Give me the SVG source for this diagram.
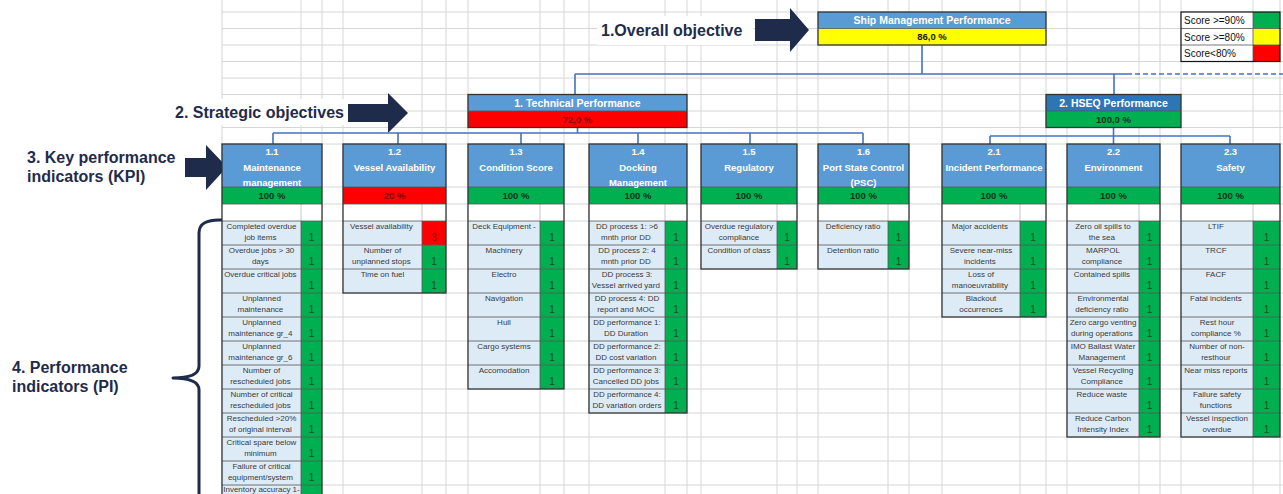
<svg xmlns="http://www.w3.org/2000/svg" width="1283" height="494" viewBox="0 0 1283 494">
<style>
.bg{fill:#ffffff}
.grid{stroke:#d6d6d6;stroke-width:1;fill:none}
.hd{fill:#5b9bd5}
.hd2{fill:#2e75b6}
.gr{fill:#00b050}
.rd{fill:#ff0000}
.ye{fill:#ffff00}
.wh{fill:#ffffff}
.pl{fill:#ddebf7}
.box{fill:none;stroke:#333333;stroke-width:1.3}
.sep{fill:none;stroke:#555555;stroke-width:0.8}
.lgt{fill:none;stroke:#c8c8c8;stroke-width:1}
.ht{font-family:"Liberation Sans",Arial,sans-serif;font-weight:bold;font-size:9.5px;fill:#ffffff;text-anchor:middle}
.ht2{font-family:"Liberation Sans",Arial,sans-serif;font-weight:bold;font-size:10.5px;fill:#ffffff;text-anchor:middle}
.vt{font-family:"Liberation Sans",Arial,sans-serif;font-weight:bold;font-size:9.5px;fill:#10301a;text-anchor:middle}
.vtr{font-family:"Liberation Sans",Arial,sans-serif;font-weight:bold;font-size:9.5px;fill:#8a0000;text-anchor:middle}
.vtk{font-family:"Liberation Sans",Arial,sans-serif;font-weight:bold;font-size:9.5px;fill:#111111;text-anchor:middle}
.pt{font-family:"Liberation Sans",Arial,sans-serif;font-size:8px;fill:#3a3a3a;text-anchor:middle}
.one{font-family:"Liberation Sans",Arial,sans-serif;font-size:10px;fill:#174d22;text-anchor:middle}
.oner{font-family:"Liberation Sans",Arial,sans-serif;font-size:10px;fill:#9a0000;text-anchor:middle}
.lg{font-family:"Liberation Sans",Arial,sans-serif;font-size:10px;fill:#111111}
.lbl{font-family:"Liberation Sans",Arial,sans-serif;font-weight:bold;font-size:16px;fill:#1f2b4a}
.navy{fill:#1f2b4a}
.conn{fill:none;stroke:#4472c4;stroke-width:1.6}
.dash{fill:none;stroke:#4472c4;stroke-width:1.6;stroke-dasharray:5 3}
.brace{fill:none;stroke:#1f2b4a;stroke-width:3;stroke-linejoin:round}
</style>
<rect class="bg" x="0" y="0" width="1283" height="494"/>
<g id="grid">
<path class="grid" d="M222,0V494M301,0V494M322,0V494M343,0V494M422,0V494M446,0V494M468,0V494M540,0V494M564,0V494M589,0V494M665,0V494M687,0V494M701,0V494M777,0V494M797,0V494M818,0V494M888,0V494M909,0V494M942,0V494M1020,0V494M1046,0V494M1067,0V494M1139,0V494M1160,0V494M1181,0V494M1253,0V494M1280,0V494"/>
<path class="grid" d="M222,12H1283M222,28.5H1283M222,45H1283M222,61.5H1283M222,78H1283M222,94.5H1283M222,111H1283M222,127.5H1283M222,144H1283M222,187H1283M222,204H1283M222,221H1283M222,245H1283M222,269H1283M222,293H1283M222,317H1283M222,341H1283M222,365H1283M222,389H1283M222,413H1283M222,437H1283M222,461H1283M222,485H1283"/>
</g>
<g id="labels">
<rect class="wh" x="597" y="16" width="156" height="29"/>
<text class="lbl" x="601" y="36">1.Overall objective</text>
<rect class="wh" x="172" y="99" width="178" height="26"/>
<text class="lbl" x="175" y="118">2. Strategic objectives</text>
<text class="lbl" x="27" y="163">3. Key performance</text>
<text class="lbl" x="27" y="182">indicators (KPI)</text>
<text class="lbl" x="12" y="373">4. Performance</text>
<text class="lbl" x="12" y="392">indicators (PI)</text>
<polygon class="navy" points="755,19 790,19 790,8 809,30 790,52 790,41 755,41"/>
<polygon class="navy" points="348,104 388,104 388,93 408,113 388,133 388,122 348,122"/>
<polygon class="navy" points="185,158 206,158 206,145 227,167 206,190 206,177 185,177"/>
<path class="brace" d="M222,220 Q199,219 199,233 L199,366 Q199,378 173,378 Q199,378 199,390 L199,500"/>
</g>
<g id="legend">
<rect class="wh" x="1181" y="12" width="72" height="49.5"/>
<rect class="gr" x="1253" y="12" width="27" height="16.5"/>
<rect class="ye" x="1253" y="28.5" width="27" height="16.5"/>
<rect class="rd" x="1253" y="45" width="27" height="16.5"/>
<path class="sep" d="M1181,28.5H1280M1181,45H1280M1253,12V61.5"/>
<rect fill="none" stroke="#111" stroke-width="1.2" x="1181" y="12" width="99" height="49.5"/>
<text class="lg" x="1184" y="24">Score &gt;=90%</text>
<text class="lg" x="1184" y="40.5">Score &gt;=80%</text>
<text class="lg" x="1184" y="57">Score&lt;80%</text>
</g>
<g id="connectors">
<path class="conn" d="M922,45V74M575,74H1127M575,74V94.5M1114,74V94.5"/>
<path class="dash" d="M1127,74H1283"/>
<path class="conn" d="M577.5,127.5V133M273,133H863M273,133V144M398,133V144M521,133V144M638,133V144M750,133V144M863,133V144"/>
<path class="conn" d="M1113.5,127.5V136M990,136H1230M990,136V144M1113.5,136V144M1230,136V144"/>
</g>
<g id="overall">
<rect class="hd" x="818" y="12" width="228" height="16.5"/>
<rect class="ye" x="818" y="28.5" width="228" height="16.5"/>
<rect class="box" x="818" y="12" width="228" height="33"/>
<path class="sep" d="M818,28.5H1046"/>
<text class="ht2" x="932" y="24">Ship Management Performance</text>
<text class="vtk" x="932" y="40">86,0 %</text>
</g>
<g id="technical">
<rect class="hd" x="468" y="94.5" width="219" height="16.5"/>
<rect class="rd" x="468" y="111" width="219" height="16.5"/>
<rect class="box" x="468" y="94.5" width="219" height="33"/>
<path class="sep" d="M468,111H687"/>
<text class="ht2" x="577.5" y="106.5">1. Technical Performance</text>
<text class="vtr" x="577.5" y="123">72,0 %</text>
</g>
<g id="hseq">
<rect class="hd2" x="1046" y="94.5" width="135" height="16.5"/>
<rect class="gr" x="1046" y="111" width="135" height="16.5"/>
<rect class="box" x="1046" y="94.5" width="135" height="33"/>
<path class="sep" d="M1046,111H1181"/>
<text class="ht2" x="1113.5" y="106.5">2. HSEQ Performance</text>
<text class="vt" x="1113.5" y="123">100,0 %</text>
</g>
<g id="kpi-1-1">
<rect class="hd" x="222" y="144" width="100" height="43"/>
<rect class="gr" x="222" y="187" width="100" height="17"/>
<rect class="wh" x="222" y="204" width="100" height="17"/>
<rect class="pl" x="222" y="221" width="79" height="290"/>
<rect class="gr" x="301" y="221" width="21" height="290"/>
<path class="lgt" d="M301,204V221"/>
<path class="sep" d="M222,187H322M222,204H322M222,221H322M222,245H322M222,269H322M222,293H322M222,317H322M222,341H322M222,365H322M222,389H322M222,413H322M222,437H322M222,461H322M222,485H322M301,221V511"/>
<rect class="box" x="222" y="144" width="100" height="367"/>
<text class="ht"><tspan x="272" y="155">1.1</tspan><tspan x="272" y="170.5">Maintenance</tspan><tspan x="272" y="185.5">management</tspan></text>
<text class="vt" x="272" y="199">100 %</text>
<text class="pt"><tspan x="261.5" y="229">Completed overdue</tspan><tspan x="261.5" y="240">job items</tspan>
<tspan x="261.5" y="253">Overdue jobs &gt; 30</tspan><tspan x="261.5" y="264">days</tspan>
<tspan x="261.5" y="277">Overdue critical jobs</tspan>
<tspan x="261.5" y="301">Unplanned</tspan><tspan x="261.5" y="312">maintenance</tspan>
<tspan x="261.5" y="325">Unplanned</tspan><tspan x="261.5" y="336">maintenance gr_4</tspan>
<tspan x="261.5" y="349">Unplanned</tspan><tspan x="261.5" y="360">maintenance gr_6</tspan>
<tspan x="261.5" y="373">Number of</tspan><tspan x="261.5" y="384">rescheduled jobs</tspan>
<tspan x="261.5" y="397">Number of critical</tspan><tspan x="261.5" y="408">rescheduled jobs</tspan>
<tspan x="261.5" y="421">Rescheduled &gt;20%</tspan><tspan x="261.5" y="432">of original interval</tspan>
<tspan x="261.5" y="445">Critical spare below</tspan><tspan x="261.5" y="456">minimum</tspan>
<tspan x="261.5" y="469">Failure of critical</tspan><tspan x="261.5" y="480">equipment/system</tspan>
<tspan x="261.5" y="491.5">Inventory accuracy 1-</tspan></text>
<text class="one"><tspan x="311.5" y="240.5">1</tspan><tspan x="311.5" y="264.5">1</tspan><tspan x="311.5" y="288.5">1</tspan><tspan x="311.5" y="312.5">1</tspan><tspan x="311.5" y="336.5">1</tspan><tspan x="311.5" y="360.5">1</tspan><tspan x="311.5" y="384.5">1</tspan><tspan x="311.5" y="408.5">1</tspan><tspan x="311.5" y="432.5">1</tspan><tspan x="311.5" y="456.5">1</tspan><tspan x="311.5" y="480.5">1</tspan></text>
</g>
<g id="kpi-1-2">
<rect class="hd" x="343" y="144" width="103" height="43"/>
<rect class="rd" x="343" y="187" width="103" height="17"/>
<rect class="wh" x="343" y="204" width="103" height="17"/>
<rect class="pl" x="343" y="221" width="79" height="72"/>
<rect class="gr" x="422" y="221" width="24" height="72"/>
<rect class="rd" x="422" y="221" width="24" height="24"/>
<path class="lgt" d="M422,204V221"/>
<path class="sep" d="M343,187H446M343,204H446M343,221H446M343,245H446M343,269H446M422,221V293"/>
<rect class="box" x="343" y="144" width="103" height="149"/>
<text class="ht"><tspan x="394.5" y="155">1.2</tspan><tspan x="394.5" y="170.5">Vessel Availability</tspan></text>
<text class="vtr" x="394.5" y="199">20 %</text>
<text class="pt"><tspan x="382.5" y="229">Vessel availability</tspan>
<tspan x="382.5" y="253">Number of</tspan><tspan x="382.5" y="264">unplanned stops</tspan>
<tspan x="382.5" y="277">Time on fuel</tspan></text>
<text class="oner" x="434" y="240.5">3</text>
<text class="one"><tspan x="434" y="264.5">1</tspan><tspan x="434" y="288.5">1</tspan></text>
</g>
<g id="kpi-1-3">
<rect class="hd" x="468" y="144" width="96" height="43"/>
<rect class="gr" x="468" y="187" width="96" height="17"/>
<rect class="wh" x="468" y="204" width="96" height="17"/>
<rect class="pl" x="468" y="221" width="72" height="168"/>
<rect class="gr" x="540" y="221" width="24" height="168"/>
<path class="lgt" d="M540,204V221"/>
<path class="sep" d="M468,187H564M468,204H564M468,221H564M468,245H564M468,269H564M468,293H564M468,317H564M468,341H564M468,365H564M540,221V389"/>
<rect class="box" x="468" y="144" width="96" height="245"/>
<text class="ht"><tspan x="516" y="155">1.3</tspan><tspan x="516" y="170.5">Condition Score</tspan></text>
<text class="vt" x="516" y="199">100 %</text>
<text class="pt"><tspan x="504" y="229">Deck Equipment -</tspan><tspan x="504" y="253">Machinery</tspan><tspan x="504" y="277">Electro</tspan><tspan x="504" y="301">Navigation</tspan><tspan x="504" y="325">Hull</tspan><tspan x="504" y="349">Cargo systems</tspan><tspan x="504" y="373">Accomodation</tspan></text>
<text class="one"><tspan x="552" y="240.5">1</tspan><tspan x="552" y="264.5">1</tspan><tspan x="552" y="288.5">1</tspan><tspan x="552" y="312.5">1</tspan><tspan x="552" y="336.5">1</tspan><tspan x="552" y="360.5">1</tspan><tspan x="552" y="384.5">1</tspan></text>
</g>
<g id="kpi-1-4">
<rect class="hd" x="589" y="144" width="98" height="43"/>
<rect class="gr" x="589" y="187" width="98" height="17"/>
<rect class="wh" x="589" y="204" width="98" height="17"/>
<rect class="pl" x="589" y="221" width="76" height="192"/>
<rect class="gr" x="665" y="221" width="22" height="192"/>
<path class="lgt" d="M665,204V221"/>
<path class="sep" d="M589,187H687M589,204H687M589,221H687M589,245H687M589,269H687M589,293H687M589,317H687M589,341H687M589,365H687M589,389H687M665,221V413"/>
<rect class="box" x="589" y="144" width="98" height="269"/>
<text class="ht"><tspan x="638" y="155">1.4</tspan><tspan x="638" y="170.5">Docking</tspan><tspan x="638" y="185.5">Management</tspan></text>
<text class="vt" x="638" y="199">100 %</text>
<text class="pt"><tspan x="627" y="229">DD process 1: &gt;6</tspan><tspan x="627" y="240">mnth prior DD</tspan>
<tspan x="627" y="253">DD process 2: 4</tspan><tspan x="627" y="264">mnth prior  DD</tspan>
<tspan x="627" y="277">DD process 3:</tspan><tspan x="627" y="288">Vessel arrived yard</tspan>
<tspan x="627" y="301">DD process 4: DD</tspan><tspan x="627" y="312">report and MOC</tspan>
<tspan x="627" y="325">DD performance 1:</tspan><tspan x="627" y="336">DD Duration</tspan>
<tspan x="627" y="349">DD performance 2:</tspan><tspan x="627" y="360">DD cost variation</tspan>
<tspan x="627" y="373">DD performance 3:</tspan><tspan x="627" y="384">Cancelled DD jobs</tspan>
<tspan x="627" y="397">DD performance 4:</tspan><tspan x="627" y="408">DD variation orders</tspan></text>
<text class="one"><tspan x="676" y="240.5">1</tspan><tspan x="676" y="264.5">1</tspan><tspan x="676" y="288.5">1</tspan><tspan x="676" y="312.5">1</tspan><tspan x="676" y="336.5">1</tspan><tspan x="676" y="360.5">1</tspan><tspan x="676" y="384.5">1</tspan><tspan x="676" y="408.5">1</tspan></text>
</g>
<g id="kpi-1-5">
<rect class="hd" x="701" y="144" width="96" height="43"/>
<rect class="gr" x="701" y="187" width="96" height="17"/>
<rect class="wh" x="701" y="204" width="96" height="17"/>
<rect class="pl" x="701" y="221" width="76" height="48"/>
<rect class="gr" x="777" y="221" width="20" height="48"/>
<path class="lgt" d="M777,204V221"/>
<path class="sep" d="M701,187H797M701,204H797M701,221H797M701,245H797M777,221V269"/>
<rect class="box" x="701" y="144" width="96" height="125"/>
<text class="ht"><tspan x="749" y="155">1.5</tspan><tspan x="749" y="170.5">Regulatory</tspan></text>
<text class="vt" x="749" y="199">100 %</text>
<text class="pt"><tspan x="739" y="229">Overdue regulatory</tspan><tspan x="739" y="240">compliance</tspan><tspan x="739" y="253">Condition of class</tspan></text>
<text class="one"><tspan x="787" y="240.5">1</tspan><tspan x="787" y="264.5">1</tspan></text>
</g>
<g id="kpi-1-6">
<rect class="hd" x="818" y="144" width="91" height="43"/>
<rect class="gr" x="818" y="187" width="91" height="17"/>
<rect class="wh" x="818" y="204" width="91" height="17"/>
<rect class="pl" x="818" y="221" width="70" height="48"/>
<rect class="gr" x="888" y="221" width="21" height="48"/>
<path class="lgt" d="M888,204V221"/>
<path class="sep" d="M818,187H909M818,204H909M818,221H909M818,245H909M888,221V269"/>
<rect class="box" x="818" y="144" width="91" height="125"/>
<text class="ht"><tspan x="863.5" y="155">1.6</tspan><tspan x="863.5" y="170.5">Port State Control</tspan><tspan x="863.5" y="185.5">(PSC)</tspan></text>
<text class="vt" x="863.5" y="199">100 %</text>
<text class="pt"><tspan x="853" y="229">Deficiency ratio</tspan><tspan x="853" y="253">Detention ratio</tspan></text>
<text class="one"><tspan x="898.5" y="240.5">1</tspan><tspan x="898.5" y="264.5">1</tspan></text>
</g>
<g id="kpi-2-1">
<rect class="hd" x="942" y="144" width="104" height="43"/>
<rect class="gr" x="942" y="187" width="104" height="17"/>
<rect class="wh" x="942" y="204" width="104" height="17"/>
<rect class="pl" x="942" y="221" width="78" height="96"/>
<rect class="gr" x="1020" y="221" width="26" height="96"/>
<path class="lgt" d="M1020,204V221"/>
<path class="sep" d="M942,187H1046M942,204H1046M942,221H1046M942,245H1046M942,269H1046M942,293H1046M1020,221V317"/>
<rect class="box" x="942" y="144" width="104" height="173"/>
<text class="ht"><tspan x="994" y="155">2.1</tspan><tspan x="994" y="170.5">Incident Performance</tspan></text>
<text class="vt" x="994" y="199">100 %</text>
<text class="pt"><tspan x="981" y="229">Major accidents</tspan>
<tspan x="981" y="253">Severe near-miss</tspan><tspan x="981" y="264">incidents</tspan>
<tspan x="981" y="277">Loss of</tspan><tspan x="981" y="288">manoeuvrability</tspan>
<tspan x="981" y="301">Blackout</tspan><tspan x="981" y="312">occurrences</tspan></text>
<text class="one"><tspan x="1033" y="240.5">1</tspan><tspan x="1033" y="264.5">1</tspan><tspan x="1033" y="288.5">1</tspan><tspan x="1033" y="312.5">1</tspan></text>
</g>
<g id="kpi-2-2">
<rect class="hd" x="1067" y="144" width="93" height="43"/>
<rect class="gr" x="1067" y="187" width="93" height="17"/>
<rect class="wh" x="1067" y="204" width="93" height="17"/>
<rect class="pl" x="1067" y="221" width="72" height="216"/>
<rect class="gr" x="1139" y="221" width="21" height="216"/>
<path class="lgt" d="M1139,204V221"/>
<path class="sep" d="M1067,187H1160M1067,204H1160M1067,221H1160M1067,245H1160M1067,269H1160M1067,293H1160M1067,317H1160M1067,341H1160M1067,365H1160M1067,389H1160M1067,413H1160M1139,221V437"/>
<rect class="box" x="1067" y="144" width="93" height="293"/>
<text class="ht"><tspan x="1113.5" y="155">2.2</tspan><tspan x="1113.5" y="170.5">Environment</tspan></text>
<text class="vt" x="1113.5" y="199">100 %</text>
<text class="pt"><tspan x="1103" y="229">Zero oil spills to</tspan><tspan x="1103" y="240">the sea</tspan>
<tspan x="1103" y="253">MARPOL</tspan><tspan x="1103" y="264">compliance</tspan>
<tspan x="1103" y="277">Contained spills</tspan>
<tspan x="1103" y="301">Environmental</tspan><tspan x="1103" y="312">deficiency ratio</tspan>
<tspan x="1103" y="325">Zero cargo venting</tspan><tspan x="1103" y="336">during operations</tspan>
<tspan x="1103" y="349">IMO Ballast Water</tspan><tspan x="1103" y="360">Management</tspan>
<tspan x="1103" y="373">Vessel Recycling</tspan><tspan x="1103" y="384">Compliance</tspan>
<tspan x="1103" y="397">Reduce waste</tspan>
<tspan x="1103" y="421">Reduce Carbon</tspan><tspan x="1103" y="432">Intensity Index</tspan></text>
<text class="one"><tspan x="1149.5" y="240.5">1</tspan><tspan x="1149.5" y="264.5">1</tspan><tspan x="1149.5" y="288.5">1</tspan><tspan x="1149.5" y="312.5">1</tspan><tspan x="1149.5" y="336.5">1</tspan><tspan x="1149.5" y="360.5">1</tspan><tspan x="1149.5" y="384.5">1</tspan><tspan x="1149.5" y="408.5">1</tspan><tspan x="1149.5" y="432.5">1</tspan></text>
</g>
<g id="kpi-2-3">
<rect class="hd" x="1181" y="144" width="99" height="43"/>
<rect class="gr" x="1181" y="187" width="99" height="17"/>
<rect class="wh" x="1181" y="204" width="99" height="17"/>
<rect class="pl" x="1181" y="221" width="72" height="216"/>
<rect class="gr" x="1253" y="221" width="27" height="216"/>
<path class="lgt" d="M1253,204V221"/>
<path class="sep" d="M1181,187H1280M1181,204H1280M1181,221H1280M1181,245H1280M1181,269H1280M1181,293H1280M1181,317H1280M1181,341H1280M1181,365H1280M1181,389H1280M1181,413H1280M1253,221V437"/>
<rect class="box" x="1181" y="144" width="99" height="293"/>
<text class="ht"><tspan x="1230.5" y="155">2.3</tspan><tspan x="1230.5" y="170.5">Safety</tspan></text>
<text class="vt" x="1230.5" y="199">100 %</text>
<text class="pt"><tspan x="1217" y="229">LTIF</tspan>
<tspan x="1217" y="253">TRCF</tspan>
<tspan x="1217" y="277">FACF</tspan>
<tspan x="1217" y="301">Fatal incidents</tspan>
<tspan x="1217" y="325">Rest hour</tspan><tspan x="1217" y="336">compliance %</tspan>
<tspan x="1217" y="349">Number of non-</tspan><tspan x="1217" y="360">resthour</tspan>
<tspan x="1217" y="373">Near  miss reports</tspan>
<tspan x="1217" y="397">Failure  safety</tspan><tspan x="1217" y="408">functions</tspan>
<tspan x="1217" y="421">Vessel inspection</tspan><tspan x="1217" y="432">overdue</tspan></text>
<text class="one"><tspan x="1266.5" y="240.5">1</tspan><tspan x="1266.5" y="264.5">1</tspan><tspan x="1266.5" y="288.5">1</tspan><tspan x="1266.5" y="312.5">1</tspan><tspan x="1266.5" y="336.5">1</tspan><tspan x="1266.5" y="360.5">1</tspan><tspan x="1266.5" y="384.5">1</tspan><tspan x="1266.5" y="408.5">1</tspan><tspan x="1266.5" y="432.5">1</tspan></text>
</g>
</svg>
